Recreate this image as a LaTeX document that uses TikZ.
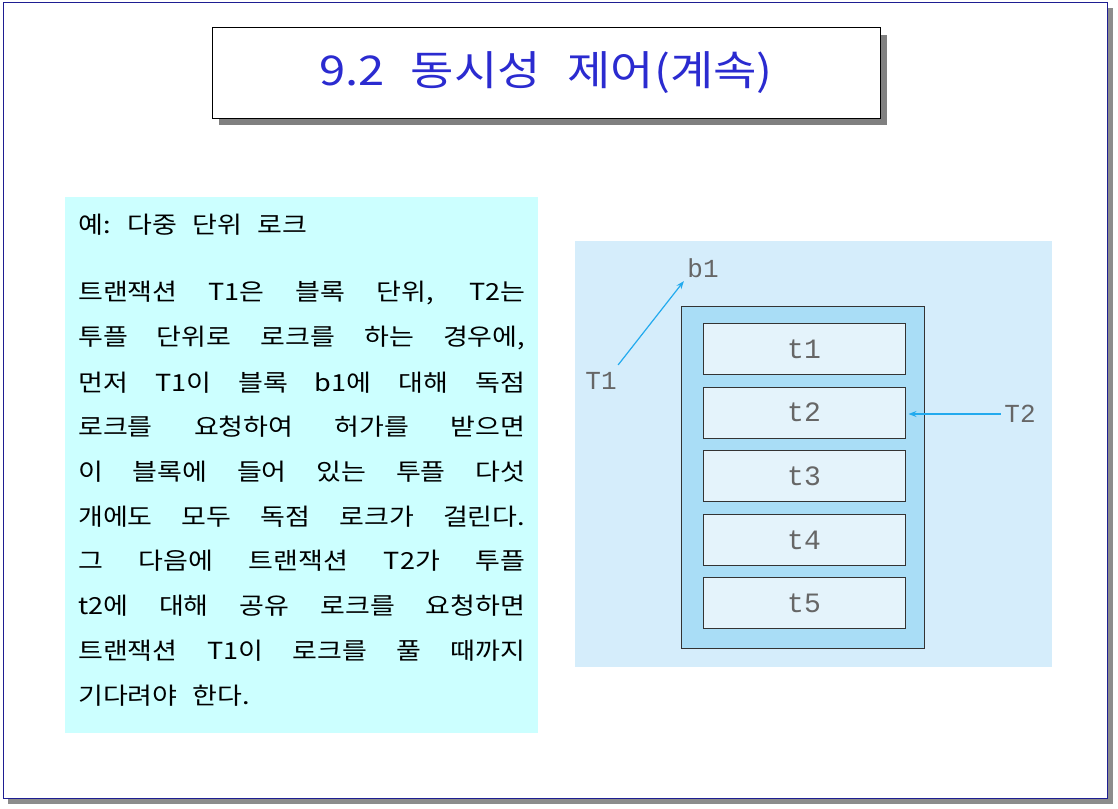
\documentclass[tikz,border=0pt]{standalone}
\usepackage{fontspec}
\setmainfont{Noto Sans CJK KR}[FakeStretch=1.15,WordSpace=2.5]
\newfontfamily\monof{Liberation Mono}
\usetikzlibrary{arrows.meta}
\definecolor{ttl}{HTML}{2B2BD0}
\definecolor{cy}{HTML}{CCFFFF}
\definecolor{pan}{HTML}{D5EDFB}
\definecolor{inn}{HTML}{A9DDF6}
\definecolor{tup}{HTML}{E4F3FB}
\definecolor{arr}{HTML}{22AAEE}
\tikzset{
 tup/.style={draw=black!80,fill=tup,line width=1pt,minimum width=202pt,minimum height=51pt,font=\monof\fontsize{28}{28}\selectfont\color{black!60}},
 lbl/.style={font=\monof\fontsize{26}{26}\selectfont\color{black!60}},
 body/.style={anchor=west,inner sep=0pt,font=\fontsize{23.5}{23.5}\selectfont},
 ar/.style={draw=arr,line width=1.2pt,-{Stealth[length=8pt,width=6pt]}}
}
\newcommand{\jl}[1]{\makebox[447pt][s]{#1}}
\begin{document}
\begin{tikzpicture}[x=1pt,y=-1pt]
\useasboundingbox (0,0) rectangle (1118,808);
\fill[white] (0,0) rectangle (1118,808);
\fill[black!45] (8,8) rectangle (1113,804);
\draw[draw=ttl!70!black,fill=white,line width=1pt] (3,3) rectangle (1107,798);
\fill[black!50] (219,35) rectangle (887,125);
\node[draw=black,fill=white,line width=1pt,minimum width=668pt,minimum height=90pt,font=\fontsize{41}{41}\selectfont\color{ttl}] (title) at (546,73) {9.2 동시성 제어(계속)};
\node[fill=cy,minimum width=473pt,minimum height=536pt,inner sep=0pt] (txt) at (301.5,465) {};
\node[body] (h) at (78,225) {예: 다중 단위 로크};
\node[body] (l1) at (78,293) {\jl{트랜잭션 T1은 블록 단위, T2는}};
\node[body] (l2) at (78,337.7) {\jl{투플 단위로 로크를 하는 경우에,}};
\node[body] (l3) at (78,382.4) {\jl{먼저 T1이 블록 b1에 대해 독점}};
\node[body] (l4) at (78,427.1) {\jl{로크를 요청하여 허가를 받으면}};
\node[body] (l5) at (78,471.8) {\jl{이 블록에 들어 있는 투플 다섯}};
\node[body] (l6) at (78,516.5) {\jl{개에도 모두 독점 로크가 걸린다.}};
\node[body] (l7) at (78,561.2) {\jl{그 다음에 트랜잭션 T2가 투플}};
\node[body] (l8) at (78,605.9) {\jl{t2에 대해 공유 로크를 요청하면}};
\node[body] (l9) at (78,650.6) {\jl{트랜잭션 T1이 로크를 풀 때까지}};
\node[body] (l10) at (78,695.3) {기다려야 한다.};
\node[fill=pan,minimum width=477pt,minimum height=426pt,inner sep=0pt] (pan) at (813.5,454) {};
\node[draw=black!80,fill=inn,line width=1pt,minimum width=243pt,minimum height=342pt,inner sep=0pt] (blk) at (802.5,477) {};
\node[tup] (t1) at (804,349) {t1};
\node[tup] (t2) at (804,412.5) {t2};
\node[tup] (t3) at (804,476) {t3};
\node[tup] (t4) at (804,540) {t4};
\node[tup] (t5) at (804,603) {t5};
\node[lbl] (b1) at (703,268) {b1};
\node[lbl] (T1) at (601,381) {T1};
\node[lbl] (T2) at (1020,414) {T2};
\draw[ar] ([shift={(-2,-4)}]T1.north east) -- (b1.south west);
\draw[ar] (T2.west) -- ([xshift=3pt]T2.west -| t2.east);
\end{tikzpicture}
\end{document}
